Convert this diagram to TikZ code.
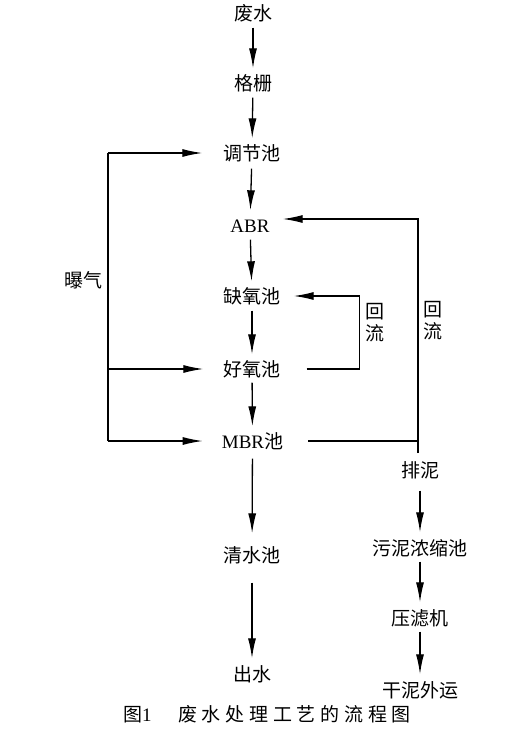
\documentclass[tikz,border=0pt]{standalone}
\usepackage{fontspec}
\setmainfont{Liberation Serif}
\newfontfamily\cjk{Noto Sans CJK SC}
\newfontfamily\capcjk[LetterSpace=25]{Noto Sans CJK SC}
\usetikzlibrary{arrows.meta}
\begin{document}
\begin{tikzpicture}[x=1pt,y=-1pt,
  lbl/.style={font=\fontsize{19}{21}\selectfont, inner sep=0pt, text height=16.5pt, text depth=2.5pt, align=center},
  ln/.style={line width=1.3pt},
  arr/.style={ln, -{Latex[length=20pt,width=8pt]}},
  va/.style={arr, shorten <=5pt, shorten >=5pt}]
\useasboundingbox[fill=white] (0,0) rectangle (514,734);
% main column
\node[lbl] (fs) at (253,13) {\cjk 废水};
\node[lbl] (gs) at (253,83) {\cjk 格栅};
\node[lbl] (tj) at (252,153) {\cjk 调节池};
\node[lbl] (abr) at (250,225) {ABR};
\node[lbl] (qy) at (252,296) {\cjk 缺氧池};
\node[lbl] (hy) at (252,369) {\cjk 好氧池};
\node[lbl] (mbr) at (252.5,441) {MBR{\cjk 池}};
\node[lbl] (qs) at (252,555) {\cjk 清水池};
\node[lbl] (cs) at (252,674) {\cjk 出水};
% sludge column
\node[lbl] (pn) at (420,470) {\cjk 排泥};
\node[lbl] (wn) at (420,548) {\cjk 污泥浓缩池};
\node[lbl] (ylj) at (420,618) {\cjk 压滤机};
\node[lbl] (gn) at (420,690) {\cjk 干泥外运};
% labels
\node[lbl] (bq) at (83,280) {\cjk 曝气};
\node[lbl, font=\fontsize{19}{22}\selectfont] (hl1) at (375,333) {\cjk 回\\\cjk 流};
\node[lbl, font=\fontsize{19}{22}\selectfont] (hl2) at (433,331) {\cjk 回\\\cjk 流};
% caption
\node[lbl, anchor=west] (cap1) at (123,714) {\cjk 图\rmfamily 1};
\node[lbl, anchor=west] (cap2) at (178,714) {\capcjk 废水处理工艺的流程图};
% vertical arrows
\draw[va] (fs) -- (gs);
\draw[va] (gs) -- (tj);
\draw[va, shorten <=6pt] (tj) -- (abr);
\draw[va] (abr) -- (qy);
\draw[va] (qy) -- (hy);
\draw[va, shorten <=4pt] (hy) -- (mbr);
\draw[va, shorten <=8pt, shorten >=12pt] (mbr) -- (qs);
\draw[va, shorten <=18pt, shorten >=6pt] (qs) -- (cs);
\draw[va, shorten <=11pt, shorten >=6pt] (pn) -- (wn);
\draw[va, shorten <=4pt, shorten >=6pt] (wn) -- (ylj);
\draw[va, shorten <=4pt, shorten >=6pt] (ylj) -- (gn);
% aeration loop
\coordinate (lt) at (108,153);
\coordinate (lm) at (108,369);
\coordinate (lb) at (108,441);
\draw[ln] (lb) -- (lt);
\draw[arr] (lt) -- ([xshift=-21pt]tj.west);
\draw[arr] (lm) -- ([xshift=-20pt]hy.west);
\draw[arr] (lb) -- ([xshift=-19pt]mbr.west);
% inner return
\draw[arr] ([xshift=26pt]hy.east) -- ++(53,0) |- ([xshift=13pt]qy.east);
% outer return
\coordinate (rc) at (418,441);
\coordinate (rcb) at (418,453);
\draw[ln] ([xshift=25pt]mbr.east) -- (rc);
\draw[arr] (rcb) |- ([xshift=13pt,yshift=6pt]abr.east);
\end{tikzpicture}
\end{document}
